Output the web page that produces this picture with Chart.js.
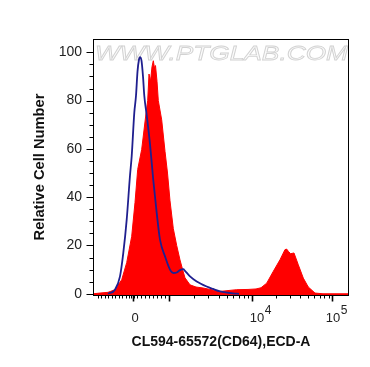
<!DOCTYPE html>
<html><head><meta charset="utf-8">
<script src="https://cdn.jsdelivr.net/npm/chart.js@4.4.0/dist/chart.umd.min.js"></script>
<style>html,body{margin:0;padding:0;background:#fff;overflow:hidden}#wrap{width:370px;height:367px;position:relative}</style>
</head><body><div id="wrap"><canvas id="c"></canvas></div>
<script>
// x values are display channels (0..256) of the biexponential ECD-A axis
const redChannel = [0, 7, 15, 22, 28.7, 33.7, 38.7, 42, 44.7, 48.7, 52.7, 54.7, 56, 57.5, 59, 60.3, 61.5, 62.5, 64, 65.3, 68.7, 72, 74.5, 77, 80.3, 83.7, 87, 90.3, 92, 97, 103, 110, 127, 143.7, 155, 163, 168, 173.7, 180.3, 187, 192, 193.7, 195.5, 197.7, 201, 205.3, 210.3, 215.3, 222, 230, 256];
const redCount   = [0, 0.3, 0.6, 1.7, 5.8, 12.9, 23.8, 37.8, 51.5, 59.8, 73.6, 80, 91, 88, 94, 96.5, 93.5, 94.5, 88, 80, 72, 59, 50, 38.5, 27, 20, 14, 9, 6.6, 3.7, 2.8, 2.4, 1, 1.7, 1.8, 2, 2.5, 4.4, 9.3, 14.1, 18.3, 18.5, 17.5, 16.6, 16.9, 12, 6.5, 2.8, 0.3, 0, 0];
const blueChannel = [15, 22, 27, 30.3, 33.7, 37, 38.7, 41.3, 43, 44.5, 46, 47, 48.5, 50, 51.3, 53.7, 57, 60.3, 63.7, 67, 72, 77, 80.3, 83.7, 87, 90.3, 92, 97, 103.7, 113.7, 120, 127, 134, 140, 146];
const blueCount   = [0, 1.7, 7.2, 16.9, 30.7, 49, 57, 75, 82, 92, 97, 98, 96.5, 90, 82, 74, 62, 47, 33.5, 22.4, 15.5, 10, 8.6, 8.8, 9.8, 10.2, 9.5, 7.2, 5.1, 3, 2, 1, 0.5, 0.2, 0];
const yTickValues = [0, 20, 40, 60, 80, 100];
const xMajorChannel = [39.5, 76, 158.7, 239.3];   // 0, 10^3, 10^4, 10^5
const xMajorBase = ['0', '', '10', '10'];
const xMajorExp  = ['', '', '4', '5'];
const xTitle = 'CL594-65572(CD64),ECD-A';
const yTitle = 'Relative Cell Number';
const watermark = 'WWW.PTGLAB.COM';

const FONT = '"Liberation Sans", Arial, sans-serif';

const decorPlugin = {
  id: 'decor',
  beforeDatasetsDraw(chart) {
    const ctx = chart.ctx, a = chart.chartArea;
    ctx.save();
    ctx.font = 'italic 21px ' + FONT;
    ctx.textBaseline = 'alphabetic';
    const w = ctx.measureText(watermark).width;
    const target = 253;
    ctx.translate(a.left + 2, 60);
    ctx.scale(target / w, 1);
    ctx.fillStyle = '#fbfbfb';
    ctx.fillText(watermark, 0, 0);
    ctx.strokeStyle = '#d2d2d2';
    ctx.lineWidth = 0.8;
    ctx.strokeText(watermark, 0, 0);
    ctx.restore();
  },
  afterDraw(chart) {
    const ctx = chart.ctx, a = chart.chartArea;
    const xs = chart.scales.x, ys = chart.scales.y;
    ctx.save();
    ctx.strokeStyle = '#000';
    ctx.lineWidth = 1;
    ctx.strokeRect(Math.round(a.left) + 0.5, Math.round(a.top) + 0.5, Math.round(a.right - a.left) - 1, Math.round(a.bottom - a.top));
    const base = Math.round(a.bottom) + 0.5;
    // x ticks
    const zero = xMajorChannel[0];
    const minor = [];
    for (let k = 1; k <= 10; k++) { const c = zero - k * 3.45; if (c > 1) minor.push(c); }
    minor.push(zero - 1.3, zero + 1.3);
    for (let k = 1; k <= 8; k++) minor.push(zero + k * (xMajorChannel[1] - zero) / 9);
    for (let d = 1; d <= 2; d++) {
      for (let m = 2; m <= 9; m++) minor.push(xMajorChannel[d] + Math.log10(m) * (xMajorChannel[d + 1] - xMajorChannel[d]));
    }
    ctx.beginPath();
    minor.forEach(c => { const px = Math.round(xs.getPixelForValue(c)) + 0.5; ctx.moveTo(px, base); ctx.lineTo(px, base + 3); });
    ctx.stroke();
    ctx.lineWidth = 1.6;
    ctx.beginPath();
    xMajorChannel.forEach(c => { const px = Math.round(xs.getPixelForValue(c)) + 0.5; ctx.moveTo(px, base); ctx.lineTo(px, base + 6); });
    ctx.stroke();
    // y ticks
    const left = Math.round(a.left) + 0.5;
    ctx.lineWidth = 1;
    ctx.beginPath();
    for (let v = 0; v <= 100; v += 5) {
      const py = Math.round(ys.getPixelForValue(v)) + 0.5;
      const len = (v % 20 === 0) ? 7 : 4;
      ctx.moveTo(left, py); ctx.lineTo(left - len, py);
    }
    ctx.stroke();
    // x labels
    ctx.fillStyle = '#222';
    ctx.textBaseline = 'alphabetic';
    xMajorChannel.forEach((c, i) => {
      if (!xMajorBase[i]) return;
      const px = xs.getPixelForValue(c);
      ctx.font = '13px ' + FONT;
      if (!xMajorExp[i]) {
        ctx.textAlign = 'center';
        ctx.fillText(xMajorBase[i], px + 2.5, 322);
      } else {
        const bw = ctx.measureText(xMajorBase[i]).width;
        ctx.font = '12px ' + FONT;
        const ew = ctx.measureText(xMajorExp[i]).width;
        let x0 = px - 2;
        if (x0 + bw + ew + 1 > 348) x0 = 348 - bw - ew - 1;
        ctx.textAlign = 'left';
        ctx.font = '13px ' + FONT;
        ctx.fillText(xMajorBase[i], x0, 322);
        ctx.font = '12px ' + FONT;
        ctx.fillText(xMajorExp[i], x0 + bw + 0.5, 314);
      }
    });
    // titles
    ctx.fillStyle = '#111';
    ctx.font = 'bold 14px ' + FONT;
    ctx.textAlign = 'center';
    ctx.textBaseline = 'middle';
    ctx.fillText(xTitle, (a.left + a.right) / 2, 342.5);
    ctx.save();
    ctx.translate(40, (a.top + a.bottom) / 2);
    ctx.rotate(-Math.PI / 2);
    ctx.font = 'bold 14.7px ' + FONT;
    ctx.fillText(yTitle, 0, 0);
    ctx.restore();
    ctx.restore();
  }
};

new Chart(document.getElementById('c'), {
  type: 'line',
  data: {
    datasets: [
      {
        label: 'isotype',
        data: blueChannel.map((c, i) => ({x: c, y: blueCount[i]})),
        borderColor: '#1f1f8f',
        borderWidth: 1.8,
        pointRadius: 0,
        fill: false,
        cubicInterpolationMode: 'monotone'
      },
      {
        label: 'CD64',
        data: redChannel.map((c, i) => ({x: c, y: redCount[i]})),
        borderColor: '#ff0000',
        backgroundColor: '#ff0000',
        borderWidth: 1,
        pointRadius: 0,
        fill: 'start',
        tension: 0
      }
    ]
  },
  options: {
    responsive: true,
    maintainAspectRatio: false,
    animation: false,
    events: [],
    layout: {padding: {top: 39, right: 21, left: 0, bottom: 0}},
    plugins: {legend: {display: false}, tooltip: {enabled: false}},
    scales: {
      x: {
        type: 'linear', min: 0, max: 256,
        grid: {display: false, drawTicks: false},
        border: {display: false},
        ticks: {display: false},
        afterFit(s) { s.height = 72; }
      },
      y: {
        type: 'linear', min: -0.5, max: 105.5,
        grid: {display: false, drawTicks: false},
        border: {display: false},
        afterBuildTicks(s) { s.ticks = yTickValues.map(v => ({value: v})); },
        ticks: {
          padding: 11,
          color: '#222',
          font: {family: FONT, size: 14},
          callback: v => String(v)
        },
        afterFit(s) { s.width = 93; }
      }
    }
  },
  plugins: [decorPlugin]
});
</script>
</body></html>
